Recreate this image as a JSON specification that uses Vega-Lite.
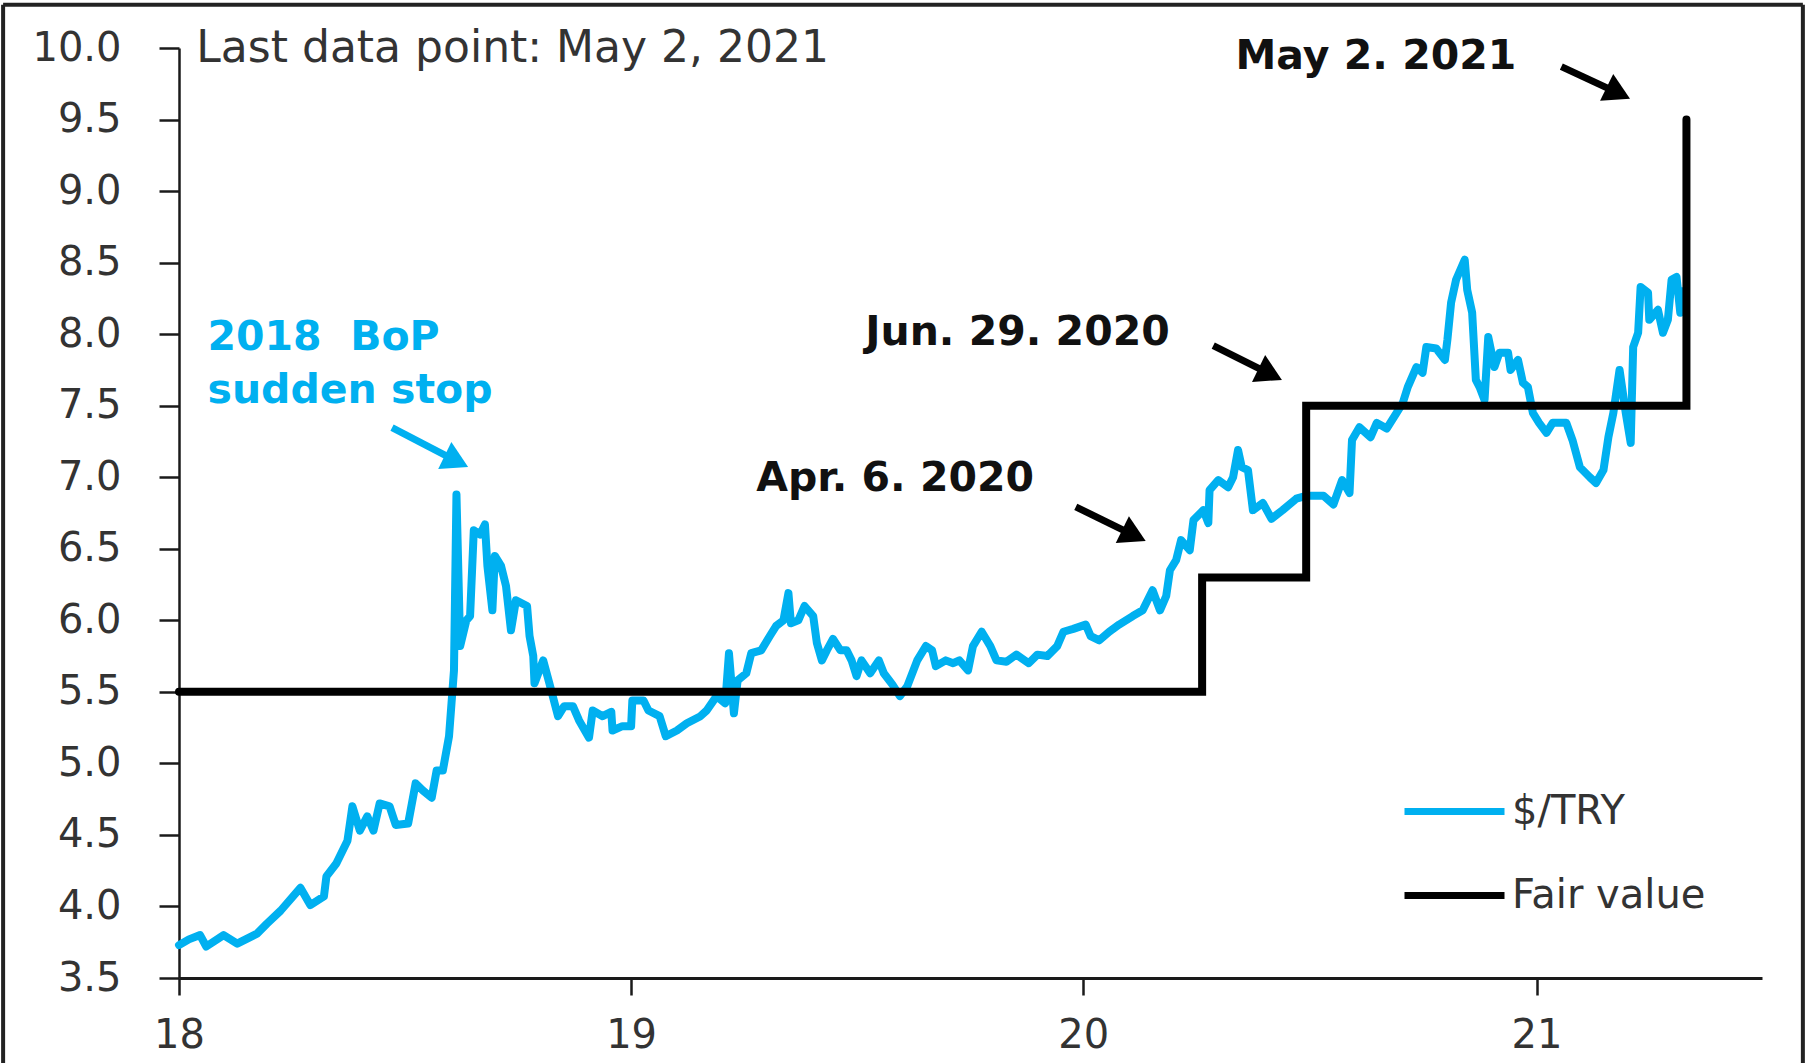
{
  "$schema": "https://vega.github.io/schema/vega-lite/v6.json",
  "width": 1583,
  "height": 930,
  "autosize": {"type": "none"},
  "padding": {"left": 179, "top": 48, "right": 46, "bottom": 85},
  "background": "white",
  "config": {"view": {"stroke": null}},
  "datasets": {
    "fx": [
      {"date":"2018-01-01","value":3.73},{"date":"2018-01-09","value":3.77},{"date":"2018-01-18","value":3.80},{"date":"2018-01-23","value":3.72},
      {"date":"2018-02-06","value":3.80},{"date":"2018-02-17","value":3.74},{"date":"2018-03-05","value":3.81},{"date":"2018-03-13","value":3.88},
      {"date":"2018-03-24","value":3.97},{"date":"2018-04-09","value":4.13},{"date":"2018-04-17","value":4.01},{"date":"2018-04-28","value":4.07},
      {"date":"2018-04-30","value":4.21},{"date":"2018-05-08","value":4.30},{"date":"2018-05-17","value":4.46},{"date":"2018-05-21","value":4.70},
      {"date":"2018-05-27","value":4.53},{"date":"2018-06-02","value":4.63},{"date":"2018-06-07","value":4.53},{"date":"2018-06-12","value":4.72},
      {"date":"2018-06-20","value":4.70},{"date":"2018-06-25","value":4.57},{"date":"2018-07-05","value":4.58},{"date":"2018-07-11","value":4.86},
      {"date":"2018-07-17","value":4.81},{"date":"2018-07-24","value":4.76},{"date":"2018-07-28","value":4.95},{"date":"2018-08-02","value":4.95},
      {"date":"2018-08-07","value":5.19},{"date":"2018-08-09","value":5.42},{"date":"2018-08-11","value":5.65},{"date":"2018-08-13","value":6.88},
      {"date":"2018-08-16","value":5.82},{"date":"2018-08-21","value":6.00},{"date":"2018-08-24","value":6.03},{"date":"2018-08-27","value":6.63},
      {"date":"2018-09-01","value":6.60},{"date":"2018-09-05","value":6.67},{"date":"2018-09-07","value":6.38},{"date":"2018-09-11","value":6.07},
      {"date":"2018-09-13","value":6.45},{"date":"2018-09-18","value":6.38},{"date":"2018-09-22","value":6.24},{"date":"2018-09-26","value":5.93},
      {"date":"2018-09-30","value":6.14},{"date":"2018-10-09","value":6.10},{"date":"2018-10-11","value":5.89},{"date":"2018-10-14","value":5.75},
      {"date":"2018-10-15","value":5.56},{"date":"2018-10-22","value":5.72},{"date":"2018-10-27","value":5.56},{"date":"2018-11-03","value":5.33},
      {"date":"2018-11-08","value":5.40},{"date":"2018-11-15","value":5.40},{"date":"2018-11-20","value":5.30},{"date":"2018-11-28","value":5.18},
      {"date":"2018-12-01","value":5.37},{"date":"2018-12-09","value":5.33},{"date":"2018-12-16","value":5.36},{"date":"2018-12-17","value":5.23},
      {"date":"2018-12-25","value":5.26},{"date":"2019-01-01","value":5.26},{"date":"2019-01-02","value":5.44},{"date":"2019-01-11","value":5.44},
      {"date":"2019-01-15","value":5.37},{"date":"2019-01-24","value":5.33},{"date":"2019-01-29","value":5.19},{"date":"2019-02-07","value":5.23},
      {"date":"2019-02-15","value":5.28},{"date":"2019-02-26","value":5.33},{"date":"2019-03-03","value":5.37},{"date":"2019-03-11","value":5.47},
      {"date":"2019-03-18","value":5.42},{"date":"2019-03-21","value":5.77},{"date":"2019-03-25","value":5.35},{"date":"2019-03-28","value":5.58},
      {"date":"2019-04-04","value":5.63},{"date":"2019-04-08","value":5.77},{"date":"2019-04-16","value":5.79},{"date":"2019-04-23","value":5.89},
      {"date":"2019-04-28","value":5.96},{"date":"2019-05-04","value":6.00},{"date":"2019-05-08","value":6.19},{"date":"2019-05-10","value":5.98},
      {"date":"2019-05-16","value":6.00},{"date":"2019-05-21","value":6.10},{"date":"2019-05-28","value":6.03},{"date":"2019-05-31","value":5.84},
      {"date":"2019-06-04","value":5.72},{"date":"2019-06-08","value":5.79},{"date":"2019-06-13","value":5.87},{"date":"2019-06-19","value":5.79},
      {"date":"2019-06-24","value":5.79},{"date":"2019-06-28","value":5.72},{"date":"2019-07-02","value":5.61},{"date":"2019-07-06","value":5.72},
      {"date":"2019-07-13","value":5.63},{"date":"2019-07-20","value":5.72},{"date":"2019-07-24","value":5.63},{"date":"2019-07-31","value":5.55},
      {"date":"2019-08-06","value":5.47},{"date":"2019-08-12","value":5.54},{"date":"2019-08-20","value":5.72},{"date":"2019-08-27","value":5.82},
      {"date":"2019-09-01","value":5.79},{"date":"2019-09-04","value":5.68},{"date":"2019-09-12","value":5.72},{"date":"2019-09-18","value":5.70},
      {"date":"2019-09-23","value":5.72},{"date":"2019-09-30","value":5.65},{"date":"2019-10-04","value":5.82},{"date":"2019-10-11","value":5.92},
      {"date":"2019-10-18","value":5.82},{"date":"2019-10-23","value":5.72},{"date":"2019-10-31","value":5.71},{"date":"2019-11-08","value":5.76},
      {"date":"2019-11-18","value":5.70},{"date":"2019-11-25","value":5.76},{"date":"2019-12-03","value":5.75},{"date":"2019-12-11","value":5.82},
      {"date":"2019-12-16","value":5.92},{"date":"2019-12-24","value":5.94},{"date":"2020-01-03","value":5.97},{"date":"2020-01-07","value":5.89},
      {"date":"2020-01-14","value":5.86},{"date":"2020-01-22","value":5.92},{"date":"2020-01-30","value":5.97},{"date":"2020-02-10","value":6.03},
      {"date":"2020-02-18","value":6.07},{"date":"2020-02-26","value":6.21},{"date":"2020-03-03","value":6.07},{"date":"2020-03-08","value":6.17},
      {"date":"2020-03-11","value":6.35},{"date":"2020-03-16","value":6.42},{"date":"2020-03-20","value":6.56},{"date":"2020-03-27","value":6.49},
      {"date":"2020-03-30","value":6.70},{"date":"2020-04-07","value":6.77},{"date":"2020-04-11","value":6.68},{"date":"2020-04-12","value":6.91},
      {"date":"2020-04-19","value":6.98},{"date":"2020-04-27","value":6.93},{"date":"2020-05-01","value":7.00},{"date":"2020-05-05","value":7.19},
      {"date":"2020-05-08","value":7.07},{"date":"2020-05-13","value":7.05},{"date":"2020-05-17","value":6.77},{"date":"2020-05-25","value":6.82},
      {"date":"2020-06-01","value":6.71},{"date":"2020-06-10","value":6.77},{"date":"2020-06-21","value":6.85},{"date":"2020-06-29","value":6.87},
      {"date":"2020-07-13","value":6.87},{"date":"2020-07-21","value":6.81},{"date":"2020-07-28","value":6.98},{"date":"2020-08-03","value":6.89},
      {"date":"2020-08-05","value":7.26},{"date":"2020-08-11","value":7.35},{"date":"2020-08-20","value":7.28},{"date":"2020-08-25","value":7.38},
      {"date":"2020-09-02","value":7.34},{"date":"2020-09-10","value":7.45},{"date":"2020-09-15","value":7.52},{"date":"2020-09-19","value":7.63},
      {"date":"2020-09-26","value":7.77},{"date":"2020-10-01","value":7.73},{"date":"2020-10-04","value":7.91},{"date":"2020-10-12","value":7.90},
      {"date":"2020-10-19","value":7.82},{"date":"2020-10-21","value":7.96},{"date":"2020-10-24","value":8.22},{"date":"2020-10-28","value":8.38},
      {"date":"2020-11-04","value":8.52},{"date":"2020-11-06","value":8.31},{"date":"2020-11-10","value":8.15},{"date":"2020-11-13","value":7.68},
      {"date":"2020-11-16","value":7.63},{"date":"2020-11-20","value":7.54},{"date":"2020-11-23","value":7.98},{"date":"2020-11-28","value":7.77},
      {"date":"2020-12-02","value":7.87},{"date":"2020-12-09","value":7.87},{"date":"2020-12-11","value":7.75},{"date":"2020-12-17","value":7.82},
      {"date":"2020-12-21","value":7.66},{"date":"2020-12-25","value":7.63},{"date":"2020-12-29","value":7.45},{"date":"2021-01-03","value":7.38},
      {"date":"2021-01-09","value":7.31},{"date":"2021-01-14","value":7.38},{"date":"2021-01-25","value":7.38},{"date":"2021-01-30","value":7.26},
      {"date":"2021-02-05","value":7.07},{"date":"2021-02-13","value":7.00},{"date":"2021-02-18","value":6.96},{"date":"2021-02-24","value":7.05},
      {"date":"2021-02-28","value":7.28},{"date":"2021-03-04","value":7.45},{"date":"2021-03-09","value":7.75},{"date":"2021-03-14","value":7.45},
      {"date":"2021-03-18","value":7.24},{"date":"2021-03-20","value":7.91},{"date":"2021-03-24","value":8.01},{"date":"2021-03-26","value":8.33},
      {"date":"2021-04-01","value":8.29},{"date":"2021-04-02","value":8.10},{"date":"2021-04-09","value":8.17},{"date":"2021-04-13","value":8.01},
      {"date":"2021-04-17","value":8.10},{"date":"2021-04-20","value":8.38},{"date":"2021-04-24","value":8.40},{"date":"2021-04-27","value":8.15},
      {"date":"2021-04-29","value":8.30}
    ],
    "fair": [
      {"step":1,"date":"2018-01-01","value":5.5},
      {"step":2,"date":"2020-04-06","value":5.5},
      {"step":3,"date":"2020-04-06","value":6.3},
      {"step":4,"date":"2020-06-29","value":6.3},
      {"step":5,"date":"2020-06-29","value":7.5},
      {"step":6,"date":"2021-05-02","value":7.5},
      {"step":7,"date":"2021-05-02","value":9.5}
    ],
    "frame": [
      {"date":"2017-08-12","value":2.8,"date2":"2017-08-12","value2":10.303},
      {"date":"2017-08-12","value":10.303,"date2":"2021-08-04","value2":10.303},
      {"date":"2021-08-04","value":10.303,"date2":"2021-08-04","value2":2.8}
    ],
    "arrows_black": [
      {"date":"2021-01-21","value":9.87,"date2":"2021-03-08","value2":9.685},
      {"date":"2020-04-15","value":7.919,"date2":"2020-05-31","value2":7.72},
      {"date":"2019-12-26","value":6.793,"date2":"2020-02-11","value2":6.594}
    ],
    "heads_black": [
      {"date":"2021-03-08","value":9.685},
      {"date":"2020-05-31","value":7.72},
      {"date":"2020-02-11","value":6.594}
    ],
    "arrow_blue": [
      {"date":"2018-06-22","value":7.346,"date2":"2018-08-13","value2":7.112}
    ],
    "head_blue": [
      {"date":"2018-08-13","value":7.112}
    ],
    "notes_black": [
      {"date":"2020-05-03","value":9.856,"label":"May 2. 2021"},
      {"date":"2019-07-09","value":7.926,"label":"Jun. 29. 2020"},
      {"date":"2019-04-12","value":6.905,"label":"Apr. 6. 2020"}
    ],
    "notes_gray": [
      {"date":"2018-01-15","value":9.905,"label":"Last data point: May 2, 2021"}
    ],
    "notes_blue": [
      {"date":"2018-01-24","value":7.891,"label":"2018\u00a0 BoP"},
      {"date":"2018-01-24","value":7.52,"label":"sudden stop"}
    ]
  },
  "encoding": {
    "x": {
      "field": "date",
      "type": "temporal",
      "scale": {
        "type": "utc",
        "domain": [{"year":2018,"month":1,"date":1,"utc":true},{"year":2021,"month":7,"date":2,"utc":true}]
      },
      "axis": {
        "title": null,
        "grid": false,
        "values": [{"year":2018,"month":1,"date":1,"utc":true},{"year":2019,"month":1,"date":1,"utc":true},{"year":2020,"month":1,"date":1,"utc":true},{"year":2021,"month":1,"date":1,"utc":true}],
        "format": "%y",
        "labelFont": "DejaVu Sans",
        "labelFontSize": 40,
        "labelColor": "#333333",
        "labelPadding": 20,
        "labelFlush": false,
        "labelOverlap": false,
        "labelBound": false,
        "tickSize": 17,
        "tickWidth": 2.5,
        "tickColor": "#1a1a1a",
        "domainColor": "#1a1a1a",
        "domainWidth": 3
      }
    },
    "y": {
      "field": "value",
      "type": "quantitative",
      "scale": {"domain": [3.5, 10], "nice": false, "zero": false},
      "axis": {
        "title": null,
        "grid": false,
        "values": [3.5,4,4.5,5,5.5,6,6.5,7,7.5,8,8.5,9,9.5,10],
        "format": ".1f",
        "labelFont": "DejaVu Sans",
        "labelFontSize": 40,
        "labelColor": "#333333",
        "labelPadding": 38,
        "labelFlush": false,
        "labelOverlap": false,
        "labelBound": false,
        "tickSize": 20,
        "tickWidth": 2.5,
        "tickColor": "#1a1a1a",
        "domainColor": "#1a1a1a",
        "domainWidth": 2.5
      }
    }
  },
  "layer": [
    {
      "data": {"name": "frame"},
      "mark": {"type": "rule", "stroke": "#222222", "strokeWidth": 4},
      "encoding": {"x2": {"field": "date2"}, "y2": {"field": "value2"}}
    },
    {
      "data": {"name": "fx"},
      "mark": {"type": "line", "strokeWidth": 8, "strokeJoin": "round", "strokeCap": "round"},
      "encoding": {
        "color": {
          "datum": "$/TRY",
          "type": "nominal",
          "scale": {"domain": ["$/TRY", "Fair value"], "range": ["#00B0F0", "#000000"]},
          "legend": {
            "orient": "none",
            "legendX": 1222,
            "legendY": 710,
            "title": null,
            "padding": 0,
            "symbolType": "stroke",
            "symbolSize": 10000,
            "symbolStrokeWidth": 7,
            "labelFont": "DejaVu Sans",
            "labelFontSize": 40,
            "labelColor": "#333333",
            "labelOffset": 4,
            "labelLimit": 600,
            "rowPadding": 10
          }
        }
      }
    },
    {
      "data": {"name": "fair"},
      "mark": {"type": "line", "strokeWidth": 8, "strokeJoin": "miter", "strokeCap": "round"},
      "encoding": {
        "color": {"datum": "Fair value", "type": "nominal"},
        "order": {"field": "step", "type": "quantitative"}
      }
    },
    {
      "data": {"name": "arrows_black"},
      "mark": {"type": "rule", "stroke": "#000000", "strokeWidth": 7, "strokeCap": "butt"},
      "encoding": {"x2": {"field": "date2"}, "y2": {"field": "value2"}}
    },
    {
      "data": {"name": "heads_black"},
      "mark": {"type": "point", "shape": "triangle-right", "angle": 26, "size": 900, "filled": true, "color": "#000000", "opacity": 1}
    },
    {
      "data": {"name": "arrow_blue"},
      "mark": {"type": "rule", "stroke": "#00B0F0", "strokeWidth": 7, "strokeCap": "butt"},
      "encoding": {"x2": {"field": "date2"}, "y2": {"field": "value2"}}
    },
    {
      "data": {"name": "head_blue"},
      "mark": {"type": "point", "shape": "triangle-right", "angle": 26, "size": 900, "filled": true, "color": "#00B0F0", "opacity": 1}
    },
    {
      "data": {"name": "notes_black"},
      "mark": {"type": "text", "align": "left", "baseline": "alphabetic", "font": "DejaVu Sans", "fontSize": 41, "fontWeight": "bold", "color": "#111111"},
      "encoding": {"text": {"field": "label"}}
    },
    {
      "data": {"name": "notes_gray"},
      "mark": {"type": "text", "align": "left", "baseline": "alphabetic", "font": "DejaVu Sans", "fontSize": 44, "color": "#333333"},
      "encoding": {"text": {"field": "label"}}
    },
    {
      "data": {"name": "notes_blue"},
      "mark": {"type": "text", "align": "left", "baseline": "alphabetic", "font": "DejaVu Sans", "fontSize": 41, "fontWeight": "bold", "color": "#00B0F0"},
      "encoding": {"text": {"field": "label"}}
    }
  ]
}
